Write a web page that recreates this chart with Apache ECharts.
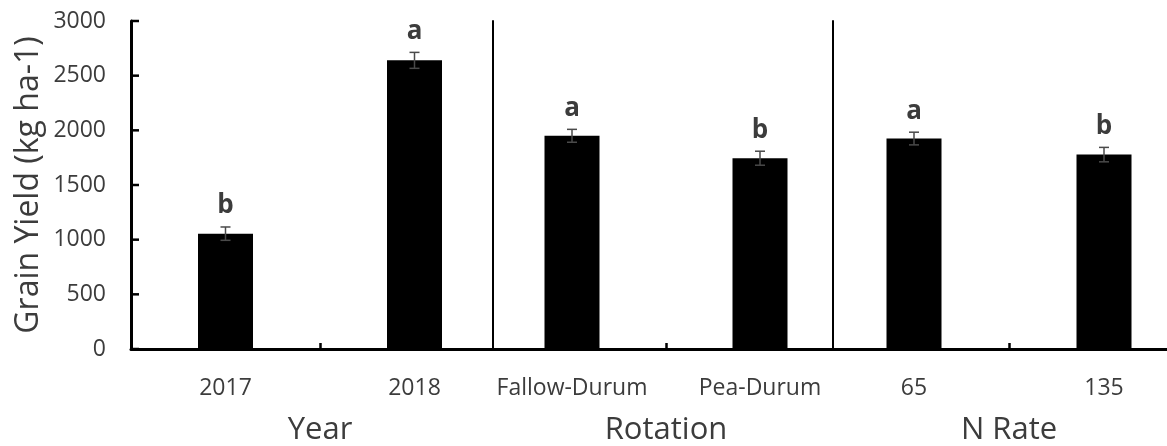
<!DOCTYPE html>
<html>
<head>
<meta charset="utf-8">
<script src="https://cdn.jsdelivr.net/npm/echarts@6/dist/echarts.min.js"></script>
<style>
  html, body { margin: 0; padding: 0; background: #ffffff; }
  #chart { width: 1167px; height: 446px; }
</style>
</head>
<body>
<div id="chart"></div>
<script>
// Grain yield means (kg ha-1), standard errors and mean-separation letters
const yearCats = ['2017', '2018'];
const yearMeans = [1055, 2640];
const yearSE = [61, 73];
const yearLetters = ['b', 'a'];

const rotationCats = ['Fallow-Durum', 'Pea-Durum'];
const rotationMeans = [1950, 1745];
const rotationSE = [59, 64];
const rotationLetters = ['a', 'b'];

const nRateCats = ['65', '135'];
const nRateMeans = [1925, 1778];
const nRateSE = [58, 66];
const nRateLetters = ['a', 'b'];

const groupNames = ['Year', 'Rotation', 'N Rate'];
const yTicks = { min: 0, max: 3000, interval: 500 };
const yTickValues = [0, 500, 1000, 1500, 2000, 2500, 3000];
const yTitle = 'Grain Yield (kg ha-1)';

const FONT = '"Open Sans", "Noto Sans", sans-serif';
const TEXT = '#3c3c3c';
const INK = '#000000';

// each factor gets its own grid; the grids overlap so the baseline runs on unbroken
const panels = [
  { cats: yearCats, means: yearMeans, se: yearSE, letters: yearLetters, name: groupNames[0],
    grid: { left: 131, width: 378 }, dividerOffset: 0 },
  { cats: rotationCats, means: rotationMeans, se: rotationSE, letters: rotationLetters, name: groupNames[1],
    grid: { left: 478, width: 376 }, dividerOffset: -15 },
  { cats: nRateCats, means: nRateMeans, se: nRateSE, letters: nRateLetters, name: groupNames[2],
    grid: { left: 819, width: 380 }, dividerOffset: -14 }
];

const grid = [], xAxis = [], yAxis = [], series = [];

panels.forEach(function (p, i) {
  grid.push({ left: p.grid.left, width: p.grid.width, top: 21, bottom: 97,
              containLabel: false, outerBoundsMode: 'none' });

  // category axis carrying the bars, the baseline and the factor name
  xAxis.push({
    type: 'category', gridIndex: i, data: p.cats, position: 'bottom',
    axisLine: { onZero: false, lineStyle: { color: INK, width: 3 } },
    axisTick: { show: false },
    axisLabel: { color: TEXT, fontFamily: FONT, fontSize: 23, margin: 28, interval: 0 },
    name: p.name, nameLocation: 'middle', nameGap: 66,
    nameTextStyle: { color: TEXT, fontFamily: FONT, fontSize: 31 }
  });
  // companion axis that only draws the tick between the two categories
  xAxis.push({
    type: 'value', gridIndex: i, min: 0, max: 2, position: 'bottom',
    axisLine: { show: false, onZero: false },
    axisTick: { show: true, inside: true, length: 6, customValues: [1], lineStyle: { color: INK, width: 2.5 } },
    axisLabel: { show: false }, splitLine: { show: false }
  });

  const isFirst = i === 0;
  yAxis.push({
    type: 'value', gridIndex: i, min: yTicks.min, max: yTicks.max, interval: yTicks.interval,
    offset: p.dividerOffset,
    axisLine: { show: true, lineStyle: { color: INK, width: isFirst ? 3 : 2 } },
    axisTick: { show: false },
    axisLabel: { show: isFirst, color: TEXT, fontFamily: FONT, fontSize: 23, margin: 25,
                 formatter: function (v) { return String(v); } },
    splitLine: { show: false },
    name: isFirst ? yTitle : '', nameLocation: 'middle', nameGap: 86, nameRotate: 90,
    nameTextStyle: { color: TEXT, fontFamily: FONT, fontSize: 32 }
  });

  series.push({
    type: 'bar', xAxisIndex: 2 * i, yAxisIndex: i, data: p.means,
    barWidth: 55, itemStyle: { color: INK }, silent: true
  });

  // error bars (mean ± SE) with the separation letter above each
  series.push({
    type: 'custom', xAxisIndex: 2 * i, yAxisIndex: i,
    data: p.means.map(function (m, k) { return [k, m, p.se[k]]; }),
    encode: { x: 0, y: 1 },
    renderItem: function (params, api) {
      const k = api.value(0), m = api.value(1), s = api.value(2);
      const hi = api.coord([k, m + s]);
      const lo = api.coord([k, m - s]);
      const cap = 5;
      const stroke = { stroke: '#4a4a4a', lineWidth: 1.5 };
      return {
        type: 'group',
        children: [
          { type: 'line', shape: { x1: hi[0], y1: hi[1], x2: lo[0], y2: lo[1] }, style: stroke },
          { type: 'line', shape: { x1: hi[0] - cap, y1: hi[1], x2: hi[0] + cap, y2: hi[1] }, style: stroke },
          { type: 'line', shape: { x1: lo[0] - cap, y1: lo[1], x2: lo[0] + cap, y2: lo[1] }, style: stroke },
          { type: 'text', x: hi[0], y: hi[1] - 8,
            style: { text: p.letters[params.dataIndex], align: 'center', verticalAlign: 'bottom',
                     fill: TEXT, font: 'bold 26px ' + FONT } }
        ]
      };
    },
    silent: true, z: 5
  });
});

// short inward tick marks on the value axis of the first panel, placed by the y scale
series.push({
  type: 'custom', xAxisIndex: 0, yAxisIndex: 0,
  data: yTickValues.map(function (v) { return [0, v]; }),
  encode: { x: 0, y: 1 },
  clip: false,
  renderItem: function (params, api) {
    const y = api.coord([0, api.value(1)])[1];
    const x0 = params.coordSys.x;
    return {
      type: 'line',
      shape: { x1: x0, y1: y, x2: x0 + 8, y2: y },
      style: { stroke: INK, lineWidth: 2.5 }
    };
  },
  silent: true, z: 6
});

const chart = echarts.init(document.getElementById('chart'), null, { renderer: 'canvas' });
chart.setOption({
  animation: false,
  backgroundColor: '#ffffff',
  grid: grid, xAxis: xAxis, yAxis: yAxis, series: series
});
</script>
</body>
</html>
